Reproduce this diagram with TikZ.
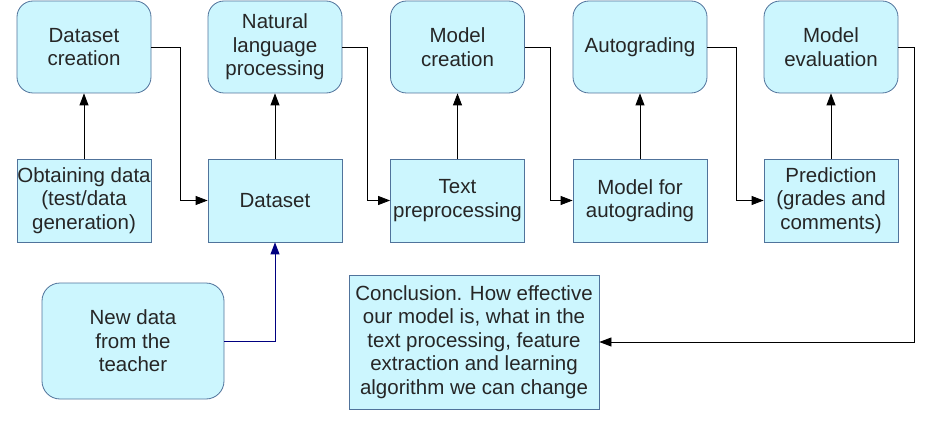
\documentclass[tikz,border=0pt]{standalone}
\usepackage{fontspec}
\setmainfont{Liberation Sans}
\usetikzlibrary{arrows.meta}
\definecolor{boxfill}{RGB}{204,246,254}
\definecolor{boxdraw}{RGB}{80,115,155}
\definecolor{navyline}{RGB}{0,0,128}
\tikzset{
  base/.style={draw=boxdraw, fill=boxfill, line width=0.8pt, align=center,
    inner sep=0pt, font=\fontsize{20.5}{23.5}\selectfont, text=black!85},
  topbox/.style={base, rounded corners=16pt, minimum width=134pt, minimum height=92pt},
  botbox/.style={base, minimum width=134pt, minimum height=83pt},
  conn/.style={draw=black, line width=0.8pt, -{Triangle[length=12pt,width=9pt]}},
  bconn/.style={draw=navyline, line width=0.9pt, -{Triangle[length=12pt,width=9pt]}},
}
\begin{document}
\begin{tikzpicture}[x=1pt,y=-1pt]
\useasboundingbox (0,0) rectangle (932,425);
% top row
\node[topbox] (dc) at (84,47) {Dataset\\creation};
\node[topbox] (nlp) at (275,47) {Natural\\language\\processing};
\node[topbox] (mc) at (457.5,47) {Model\\creation};
\node[topbox] (ag) at (640,47) {Autograding};
\node[topbox] (me) at (831,47) {Model\\evaluation};
% bottom row
\node[botbox] (od) at (84,200.5) {Obtaining data\\(test/data\\generation)};
\node[botbox] (ds) at (275,200.5) {Dataset};
\node[botbox] (tp) at (457.5,200.5) {Text\\preprocessing};
\node[botbox] (ma) at (640,200.5) {Model for\\autograding};
\node[botbox] (pr) at (831,200.5) {Prediction\\(grades and\\comments)};
% lower nodes
\node[base, rounded corners=18pt, minimum width=182pt, minimum height=116pt] (nd) at (133,341) {New data\\from the\\teacher};
\node[base, minimum width=250pt, minimum height=134pt] (cc) at (474,342) {Conclusion. How effective\\our model is, what in the\\text processing, feature\\extraction and learning\\algorithm we can change};
% vertical arrows
\draw[conn] (od.north) -- (dc.south);
\draw[conn] (ds.north) -- (nlp.south);
\draw[conn] (tp.north) -- (mc.south);
\draw[conn] (ma.north) -- (ag.south);
\draw[conn] (pr.north) -- (me.south);
% stepped connectors
\draw[conn] (dc.east) -- ([xshift=29pt]dc.east) |- (ds.west);
\draw[conn] (nlp.east) -- ([xshift=25pt]nlp.east) |- (tp.west);
\draw[conn] (mc.east) -- ([xshift=25pt]mc.east) |- (ma.west);
\draw[conn] (ag.east) -- ([xshift=29pt]ag.east) |- (pr.west);
\draw[conn] (me.east) -- ([xshift=16pt]me.east) |- (cc.east);
\draw[bconn] (nd.east) -| (ds.south);
\end{tikzpicture}
\end{document}
